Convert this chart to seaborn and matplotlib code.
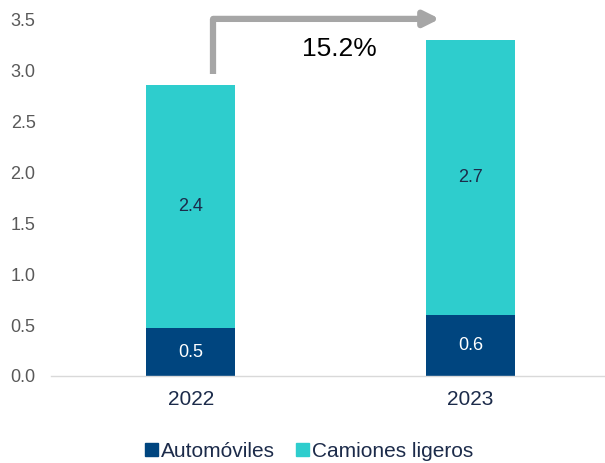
import pandas as pd
import matplotlib.pyplot as plt
import seaborn as sns
from matplotlib.patches import Patch

years = ['2022', '2023']
automoviles = [0.47, 0.60]
camiones = [2.39, 2.70]
growth_label = '15.2%'
y_ticks = [0.0, 0.5, 1.0, 1.5, 2.0, 2.5, 3.0, 3.5]

color_auto = '#00457F'
color_cam = '#2ECDCD'
navy = '#1C2B4A'

sns.set_style('white')
plt.rcParams['font.family'] = ['Liberation Sans', 'DejaVu Sans']

df = pd.DataFrame({'year': years, 'auto': automoviles, 'cam': camiones})
df['total'] = df['auto'] + df['cam']

fig = plt.figure(figsize=(6.05, 4.63), dpi=100)
ax = fig.add_axes([0.084, 0.188, 0.925, 0.769])

sns.barplot(data=df, x='year', y='total', color=color_cam, width=0.32,
            saturation=1, ax=ax, linewidth=0)
sns.barplot(data=df, x='year', y='auto', color=color_auto, width=0.32,
            saturation=1, ax=ax, linewidth=0)

for i, row in df.iterrows():
    ax.text(i, row['auto'] / 2, f"{row['auto']:.1f}", ha='center', va='center',
            color='white', fontsize=13)
    ax.text(i, row['auto'] + row['cam'] / 2, f"{row['cam']:.1f}", ha='center',
            va='center', color=navy, fontsize=13)

# growth arrow
ax.annotate('', xy=(0.89, 3.51), xytext=(0.08, 3.51),
            arrowprops=dict(arrowstyle='-|>,head_length=0.9,head_width=0.45',
                            color='#A6A6A6', lw=4.5, shrinkA=0, shrinkB=0),
            annotation_clip=False)
ax.plot([0.08, 0.08], [2.97, 3.51], color='#A6A6A6', lw=4.5,
        solid_capstyle='butt', clip_on=False)
ax.text(0.53, 3.21, growth_label, ha='center', va='center', fontsize=19,
        color='black')

ax.set_xlim(-0.5, 1.5)
ax.set_ylim(0, 3.5)
ax.set_yticks(y_ticks)
ax.set_yticklabels([f'{t:.1f}' for t in y_ticks])
ax.set_xlabel('')
ax.set_ylabel('')

for s in ['top', 'right', 'left']:
    ax.spines[s].set_visible(False)
ax.spines['bottom'].set_color('#D9D9D9')
ax.spines['bottom'].set_linewidth(1)

ax.tick_params(axis='y', length=0, pad=11, labelsize=13, labelcolor='#595959')
ax.tick_params(axis='x', which='major', length=0, pad=10, labelsize=15,
               labelcolor=navy)
ax.set_xticks([-0.5, 0.5, 1.5], minor=True)
ax.tick_params(axis='x', which='minor', length=5, color='#D9D9D9', direction='out')

handles = [Patch(color=color_auto, label='Automóviles'),
           Patch(color=color_cam, label='Camiones ligeros')]
fig.legend(handles=handles, loc='center', bbox_to_anchor=(0.511, 0.025), ncol=2,
           frameon=False, fontsize=15, handlelength=0.62, handleheight=0.62,
           handletextpad=0.15, columnspacing=1.0, labelcolor=navy,
           borderpad=0)

plt.savefig('out.png', dpi=100)
plt.close()
